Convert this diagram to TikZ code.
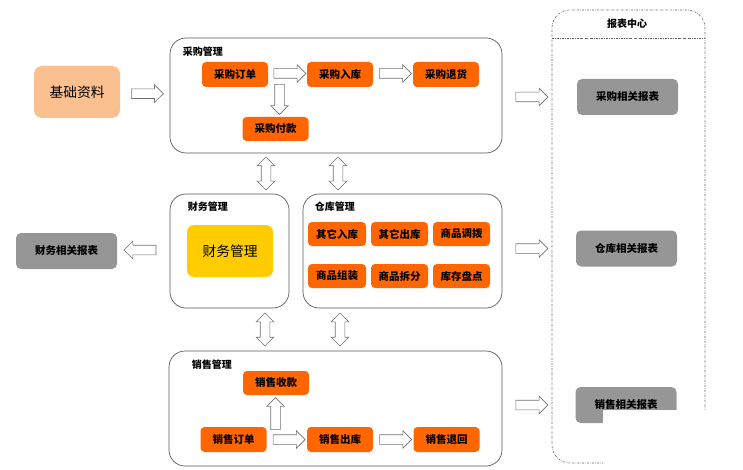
\documentclass[tikz,border=0pt]{standalone}
\usepackage{fontspec}
\setmainfont{Noto Sans CJK SC}
\usepackage{tikz}
\usetikzlibrary{shapes.arrows,%
                calc}

\definecolor{StepOrange}{RGB}{255,102,0}
\definecolor{BasePeach}{RGB}{250,192,143}
\definecolor{FinGold}{RGB}{255,204,0}
\definecolor{ReportGray}{RGB}{150,150,150}

\begin{document}
\begin{tikzpicture}[x=1pt,y=-1pt]
  \tikzstyle{Module}=[draw=black!65,line width=0.7pt,rounded corners=16pt,inner sep=0pt]
  \tikzstyle{ModLabel}=[anchor=west,inner sep=0pt,font=\fontsize{10}{12}\selectfont\bfseries]
  \tikzstyle{Step}=[fill=StepOrange,rounded corners=4pt,minimum width=66pt,minimum height=25pt,inner sep=0pt,font=\fontsize{10.5}{12}\selectfont\bfseries]
  \tikzstyle{Report}=[fill=ReportGray,rounded corners=5pt,minimum width=101pt,minimum height=36pt,inner sep=0pt,font=\fontsize{10.5}{12}\selectfont\bfseries]
  \tikzstyle{Arrow}=[single arrow,draw=black!55,fill=white,line width=0.6pt,minimum height=32pt,minimum width=17pt,single arrow head extend=4pt,single arrow head indent=0pt,inner xsep=0pt,inner ysep=4.5pt]
  \tikzstyle{DArrow}=[double arrow,draw=black!55,fill=white,line width=0.6pt,minimum height=33pt,minimum width=17pt,double arrow head extend=4pt,inner xsep=0pt,inner ysep=4.5pt,rotate=90]
  \useasboundingbox (0,0) rectangle (743,470);

  % report centre
  \node[draw=black!60,line width=0.6pt,dash pattern=on 2pt off 1.2pt on 0.5pt off 1.2pt,rounded corners=18pt,minimum width=153pt,minimum height=453pt,inner sep=0pt] (baobiao) at (628.5,236.5) {};
  \coordinate (sepL) at (552,38);
  \coordinate (sepR) at (705,38);
  \draw[black!60,line width=0.6pt,dash pattern=on 2pt off 1.2pt on 0.5pt off 1.2pt] (sepL) -- (sepR);
  \node[inner sep=0pt,font=\fontsize{10}{12}\selectfont\bfseries] (bbtitle) at (627,24) {报表中心};
  \node[Report] (cgbb) at (627.5,97) {采购相关报表};
  \node[Report] (ckbb) at (626.5,248.5) {仓库相关报表};
  \node[Report] (xsbb) at (626,405) {销售相关报表};

  % base data
  \node[fill=BasePeach,rounded corners=8pt,minimum width=86pt,minimum height=52pt,inner sep=0pt,font=\fontsize{13.75}{16}\selectfont] (jichu) at (77,92) {基础资料};

  % purchase
  \node[Module,minimum width=332pt,minimum height=115pt] (caigou) at (336,95.5) {};
  \node[ModLabel] (cglabel) at ([shift={(13,14)}]caigou.north west) {采购管理};
  \node[Step] (cgdd) at (235,74.5) {采购订单};
  \node[Step] (cgrk) at (340,74.5) {采购入库};
  \node[Step] (cgth) at (446,74.5) {采购退货};
  \node[Step,minimum height=24pt] (cgfk) at (275.5,129) {采购付款};

  % finance
  \node[Module,minimum width=119pt,minimum height=114pt] (caiwu) at (229.5,251) {};
  \node[ModLabel] (cwlabel) at ([shift={(18,13)}]caiwu.north west) {财务管理};
  \node[fill=FinGold,rounded corners=7pt,minimum width=86pt,minimum height=52pt,inner sep=0pt,font=\fontsize{13.75}{16}\selectfont] (cwgl) at (230,251) {财务管理};
  \node[Report] (cwbb) at (66.5,251) {财务相关报表};

  % warehouse
  \node[Module,minimum width=199pt,minimum height=114pt] (cangku) at (402.5,251) {};
  \node[ModLabel] (cklabel) at ([shift={(12,13)}]cangku.north west) {仓库管理};
  \node[Step,minimum width=58pt,minimum height=24pt] (qtrk) at (337,234) {其它入库};
  \node[Step,minimum width=57pt,minimum height=24pt] (qtck) at (399.5,234) {其它出库};
  \node[Step,minimum width=57pt,minimum height=24pt] (spdb) at (461.5,234) {商品调拨};
  \node[Step,minimum width=58pt,minimum height=24pt] (spzz) at (337,276) {商品组装};
  \node[Step,minimum width=57pt,minimum height=24pt] (spcf) at (399.5,276) {商品拆分};
  \node[Step,minimum width=57pt,minimum height=24pt] (kcpd) at (461.5,276) {库存盘点};

  % sales
  \node[Module,minimum width=333pt,minimum height=115pt] (xiaoshou) at (335.5,408.5) {};
  \node[ModLabel] (xslabel) at ([shift={(23,14)}]xiaoshou.north west) {销售管理};
  \node[Step,minimum height=24pt] (xssk) at (276,383) {销售收款};
  \node[Step] (xsdd) at (233.5,439.5) {销售订单};
  \node[Step] (xsck) at (340,439.5) {销售出库};
  \node[Step] (xsth) at (446.5,439.5) {销售退回};

  % block arrows
  \node[Arrow] (a1) at ($(jichu.east)!0.5!(caigou.west)$) {};
  \node[Arrow] (a2) at ($(cgdd.east)!0.5!(cgrk.west)+(0,-1)$) {};
  \node[Arrow] (a3) at ($(cgrk.east)!0.5!(cgth.west)+(0,-1)$) {};
  \node[Arrow,minimum height=30pt,rotate=-90] (a4) at (279.5,97) {};
  \node[Arrow] (a5) at ($(caigou.east |- cgbb)!0.55!(baobiao.west |- cgbb)$) {};
  \node[Arrow,rotate=180] (a6) at ($(cwbb.east)!0.5!(caiwu.west)+(-1,-1)$) {};
  \node[Arrow] (a7) at ($(cangku.east |- ckbb)!0.55!(baobiao.west |- ckbb)$) {};
  \node[Arrow] (a8) at ($(xiaoshou.east |- xsbb)!0.55!(baobiao.west |- xsbb)$) {};
  \node[Arrow,rotate=90] (a9) at (275.5,416) {};
  \node[Arrow] (a10) at ($(xsdd.east)!0.5!(xsck.west)$) {};
  \node[Arrow] (a11) at ($(xsck.east)!0.5!(xsth.west)$) {};
  \node[DArrow] (d1) at ($(caigou.south -| 266,0)!0.5!(caiwu.north -| 266,0)$) {};
  \node[DArrow] (d2) at ($(caigou.south -| 338,0)!0.5!(cangku.north -| 338,0)$) {};
  \node[DArrow] (d3) at ($(caiwu.south -| 265,0)!0.5!(xiaoshou.north -| 265,0)$) {};
  \node[DArrow] (d4) at ($(cangku.south -| 340,0)!0.5!(xiaoshou.north -| 340,0)$) {};

%  \draw[black!60] (baobiao.south east) -- (baobiao.east);
  \fill[white] (603,410) rectangle (743,470);
\end{tikzpicture}
\end{document}
